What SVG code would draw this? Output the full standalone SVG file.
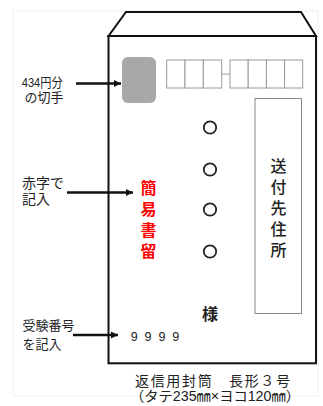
<svg xmlns="http://www.w3.org/2000/svg" width="323" height="406" viewBox="0 0 323 406">
<style>
text{font-family:"Liberation Sans","Noto Sans CJK JP","Noto Sans CJK SC",sans-serif;fill:#222}
.lbl{font-size:13px}
.red{fill:#ff0000;font-size:16px;font-weight:bold;text-anchor:middle}
.addr{font-size:16px;text-anchor:middle;font-weight:500}
.box{fill:#fff;stroke:#9a9a9a;stroke-width:1}
.env{fill:#fff;stroke:#111;stroke-width:2;stroke-linejoin:miter}
.dot{fill:none;stroke:#222;stroke-width:1.8}
.arr{stroke:#111;stroke-width:2.4;fill:none}
</style>
<defs>
<marker id="ah" markerWidth="8" markerHeight="8" refX="7" refY="4" orient="auto" markerUnits="userSpaceOnUse">
<path d="M0,0.5 L7,4 L0,7.5 Z" fill="#111"/>
</marker>
</defs>
<rect x="0" y="0" width="323" height="406" fill="#fff"/>
<rect x="13" y="11" width="305" height="385" fill="none" stroke="#efefef" stroke-width="1"/>
<g id="envelope">
<polygon class="env" points="108.5,36 126,12 301,12 316,36"/>
<rect class="env" x="108.5" y="36" width="207.5" height="327.3"/>
</g>
<g id="stamp">
<rect x="122" y="57" width="34" height="46" rx="6" fill="#a8a8a8"/>
</g>
<g id="postal-code">
<rect class="box" x="166.7" y="60" width="18.3" height="28"/>
<rect class="box" x="185" y="60" width="18.3" height="28"/>
<rect class="box" x="203.3" y="60" width="18.4" height="28"/>
<line x1="221.7" y1="74" x2="230" y2="74" stroke="#9a9a9a" stroke-width="1"/>
<rect class="box" x="230" y="60" width="18.2" height="28"/>
<rect class="box" x="248.2" y="60" width="18.2" height="28"/>
<rect class="box" x="266.4" y="60" width="18.2" height="28"/>
<rect class="box" x="284.6" y="60" width="18.1" height="28"/>
</g>
<g id="address-box">
<rect x="255" y="98.5" width="46.5" height="215" fill="#fff" stroke="#8a8a8a" stroke-width="1"/>
<text class="addr" x="278.5" y="172">送</text>
<text class="addr" x="278.5" y="193">付</text>
<text class="addr" x="278.5" y="214">先</text>
<text class="addr" x="278.5" y="235">住</text>
<text class="addr" x="278.5" y="256">所</text>
</g>
<g id="name-area">
<circle class="dot" cx="210" cy="127.5" r="6.2"/>
<circle class="dot" cx="210" cy="169.5" r="6.2"/>
<circle class="dot" cx="210" cy="209.5" r="6.2"/>
<circle class="dot" cx="210" cy="251.5" r="6.2"/>
<text x="210" y="319.5" font-size="16" font-weight="bold" text-anchor="middle">様</text>
</g>
<g id="kani-kakitome">
<text class="red" x="148.5" y="194">簡</text>
<text class="red" x="148.5" y="215">易</text>
<text class="red" x="148.5" y="236">書</text>
<text class="red" x="148.5" y="257">留</text>
</g>
<g id="exam-number">
<text x="130.7" y="341" font-size="12.5" textLength="48.6" lengthAdjust="spacing">9999</text>
</g>
<g id="label-stamp">
<text class="lbl" x="21.7" y="87" textLength="41" lengthAdjust="spacingAndGlyphs">434円分</text>
<text class="lbl" x="24.5" y="102">の切手</text>
</g>
<g id="label-red">
<text x="22" y="188" font-size="14">赤字で</text>
<text x="22" y="204" font-size="14">記入</text>
</g>
<g id="label-number">
<text class="lbl" x="22.5" y="330">受験番号</text>
<text class="lbl" x="22.5" y="349">を記入</text>
</g>
<g id="caption">
<text x="135" y="386" font-size="14" textLength="155" lengthAdjust="spacing">返信用封筒　長形３号</text>
<text x="130" y="400.5" font-size="14" textLength="170" lengthAdjust="spacingAndGlyphs">（タテ235㎜×ヨコ120㎜）</text>
</g>
<g id="connectors">
<line class="arr" x1="76" y1="83.5" x2="121" y2="83.5" marker-end="url(#ah)"/>
<line class="arr" x1="67" y1="192.5" x2="133" y2="192.5" marker-end="url(#ah)"/>
<line class="arr" x1="73" y1="335" x2="118" y2="335" stroke="#1c2033" marker-end="url(#ah)"/>
</g>
</svg>
